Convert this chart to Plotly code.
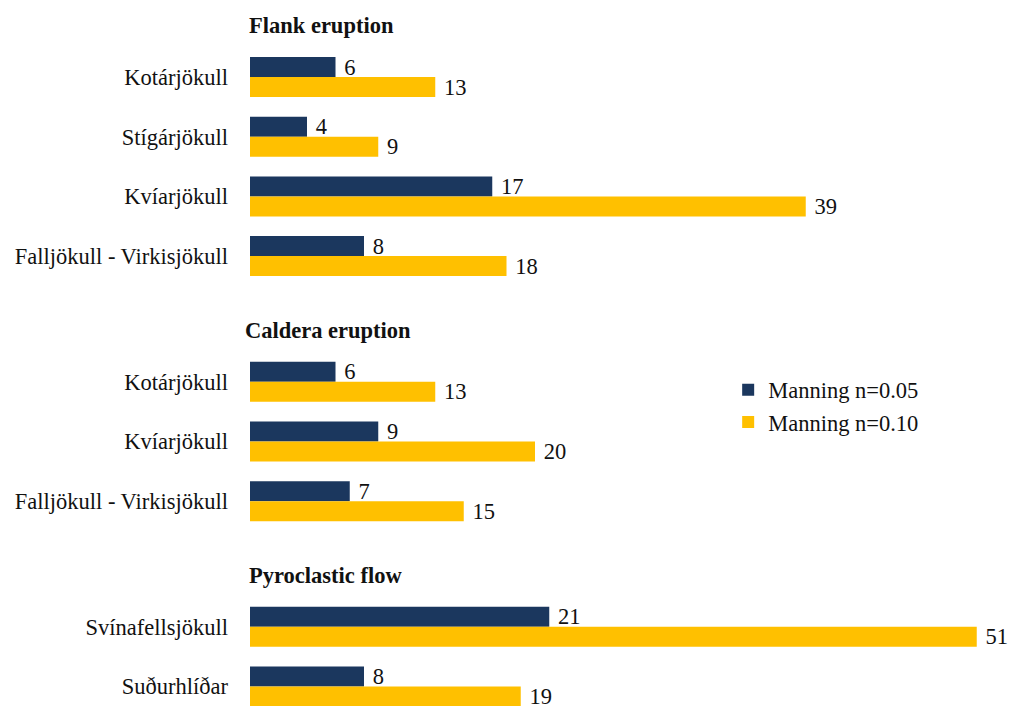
import plotly.graph_objects as go

# ---- data -------------------------------------------------------------
group_names = ["Flank eruption", "Caldera eruption", "Pyroclastic flow"]
site_names = [
    "Kotárjökull", "Stígárjökull", "Kvíarjökull", "Falljökull - Virkisjökull",
    "Kotárjökull", "Kvíarjökull", "Falljökull - Virkisjökull",
    "Svínafellsjökull", "Suðurhlíðar",
]
site_group = [0, 0, 0, 0, 1, 1, 1, 2, 2]
manning_005 = [6, 4, 17, 8, 6, 9, 7, 21, 8]
manning_010 = [13, 9, 39, 18, 13, 20, 15, 51, 19]
series_names = ["Manning n=0.05", "Manning n=0.10"]

# ---- layout of the rows: a header slot above each group ---------------
GROUP_GAP = 0.105
header_pos, row_pos = [], []
cursor = -1.0
for g in range(len(group_names)):
    header_pos.append(cursor)
    cursor += 1
    for grp in site_group:
        if grp == g:
            row_pos.append(cursor)
            cursor += 1
    cursor += GROUP_GAP

NAVY = "#1B375E"
GOLD = "#FFC000"
SERIF = "Liberation Serif, Times New Roman, serif"
FS = 22.5
header_xshift = [-3, -7, -3]

fig = go.Figure()
for name, vals, col in [(series_names[0], manning_005, NAVY),
                        (series_names[1], manning_010, GOLD)]:
    fig.add_trace(go.Bar(
        y=row_pos, x=vals, orientation="h", name=name,
        marker=dict(color=col, line=dict(width=0)),
        text=vals, texttemplate=" %{x}", textposition="outside",
        textfont=dict(family=SERIF, size=FS, color="#111111"),
        constraintext="none", cliponaxis=False,
    ))

for g, name in enumerate(group_names):
    fig.add_annotation(
        x=0, y=header_pos[g], xref="x", yref="y", text=f"<b>{name}</b>",
        showarrow=False, xanchor="left", yanchor="middle", yshift=-8,
        xshift=header_xshift[g],
        font=dict(family=SERIF, size=FS, color="#111111"),
    )

fig.update_layout(
    width=1009, height=706,
    margin=dict(l=250, r=0, t=0, b=0),
    paper_bgcolor="white", plot_bgcolor="white",
    barmode="group", bargap=0.33, bargroupgap=0,
    font=dict(family=SERIF, size=FS, color="#111111"),
    showlegend=True,
    legend=dict(x=0.63, y=0.478, xanchor="left", yanchor="top",
                traceorder="normal", bgcolor="rgba(0,0,0,0)",
                font=dict(family=SERIF, size=FS, color="#111111")),
)
fig.update_xaxes(range=[0, 759 / 14.25], showgrid=False, zeroline=False,
                 showticklabels=False, showline=False, ticks="")
fig.update_yaxes(range=[10.536, -1.29], tickvals=row_pos, ticktext=site_names,
                 showgrid=False, zeroline=False, showline=False, ticks="",
                 ticklabelstandoff=21,
                 tickfont=dict(family=SERIF, size=FS, color="#111111"))

fig.write_html("out.html")
